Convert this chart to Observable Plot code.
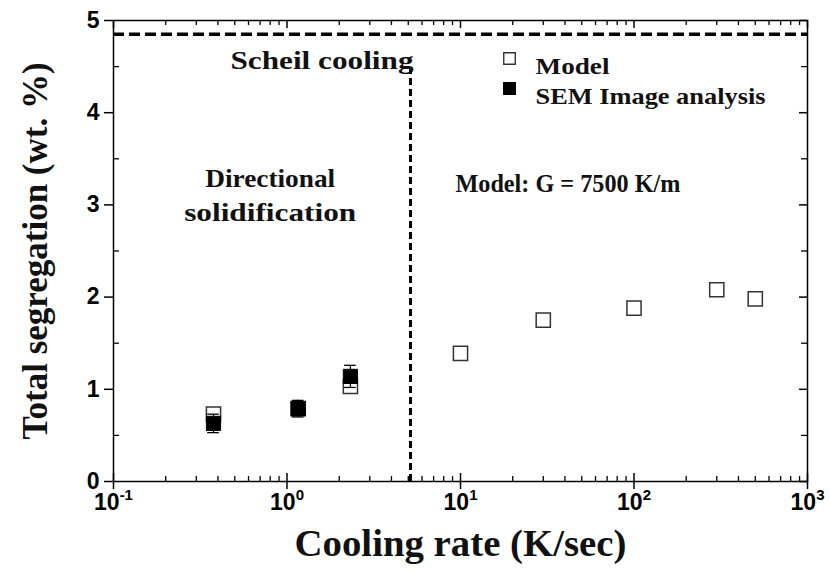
<!DOCTYPE html>
<html>
<head>
<meta charset="utf-8">
<script src="https://cdn.jsdelivr.net/npm/d3@7"></script>
<script src="https://cdn.jsdelivr.net/npm/@observablehq/plot@0.6"></script>
<style>
  html, body { margin: 0; padding: 0; background: #fff; }
  #chart { width: 830px; height: 579px; }
</style>
</head>
<body>
<div id="chart"></div>
<script>
// ---- data ----
const coolingModel = [0.377, 1.16, 2.32, 10, 30, 100, 300, 500];
const segModel     = [0.73, 0.79, 1.03, 1.39, 1.75, 1.88, 2.08, 1.98];
const coolingSEM   = [0.377, 1.16, 2.32];
const segSEM       = [0.63, 0.79, 1.14];
const errSEM       = [0.10, 0.09, 0.12];
const scheilLevel    = [4.85];
const transitionRate = [5.15];
const transitionTop  = [4.48];
const xTickValues = [0.1, 1, 10, 100, 1000];
const yTickValues = [0, 1, 2, 3, 4, 5];
const yMinorValues = [0.5, 1.5, 2.5, 3.5, 4.5];
const annotationText = ["Scheil cooling", "Directional\nsolidification", "Model: G = 7500 K/m"];
const annotationX = [5.36, 0.80, 9.35];
const annotationY = [4.59, 3.13, 3.26];
const legendLabels = ["Model", "SEM Image analysis"];
const xTitle = "Cooling rate (K/sec)";
const yTitle = "Total segregation (wt. %)";

// ---- tables built from arrays ----
const model = coolingModel.map((x, i) => ({x, y: segModel[i]}));
const sem = coolingSEM.map((x, i) => ({x, y: segSEM[i], e: errSEM[i]}));
const notes = annotationText.map((t, i) => ({t, x: annotationX[i], y: annotationY[i]}));
const xMinor = [];
for (const d of [0.1, 1, 10, 100]) for (let k = 2; k <= 9; k++) xMinor.push(d * k);

const W = 830, H = 579, mL = 113, mR = 23, mT = 20, mB = 98;
const pw = W - mL - mR, ph = H - mT - mB;
const serif = "Liberation Serif, Times New Roman, serif";
const sans = "Liberation Sans, Arial, sans-serif";
const noteStyle = {x: "x", y: "y", text: "t", fontFamily: serif, fontWeight: "bold", fontSize: 25, lineHeight: 1.35, fill: "#111"};

const chart = Plot.plot({
  width: W, height: H,
  marginLeft: mL, marginRight: mR, marginTop: mT, marginBottom: mB,
  style: {background: "#fff", color: "#000", fontFamily: sans},
  x: {type: "log", domain: [0.1, 1000], label: null},
  y: {domain: [0, 5], label: null},
  marks: [
    // axes
    Plot.axisX({ticks: xTickValues, tickSize: 8, tickPadding: 4, strokeWidth: 1.5,
      tickFormat: d => "10^" + Math.round(Math.log10(d)),
      fontSize: 23, fontWeight: "bold", fontFamily: sans, label: null}),
    Plot.axisY({ticks: yTickValues, tickSize: 9, tickPadding: 5, strokeWidth: 1.5,
      tickFormat: d => String(d), fontSize: 23, fontWeight: "bold", fontFamily: sans, label: null}),
    // inner ticks
    Plot.tickX(xTickValues, {x: d => d, insetTop: ph - 8, strokeWidth: 1.5}),
    Plot.tickX(xMinor, {x: d => d, insetTop: ph - 5, strokeWidth: 1.3}),
    Plot.tickX(xTickValues, {x: d => d, insetBottom: ph - 8, strokeWidth: 1.5}),
    Plot.tickX(xMinor, {x: d => d, insetBottom: ph - 5, strokeWidth: 1.3}),
    Plot.tickY(yMinorValues, {y: d => d, insetRight: pw - 6, strokeWidth: 1.3}),
    Plot.tickY(yTickValues, {y: d => d, insetLeft: pw - 8, strokeWidth: 1.5}),
    Plot.tickY(yMinorValues, {y: d => d, insetLeft: pw - 6, strokeWidth: 1.3}),
    Plot.frame({stroke: "#000", strokeWidth: 1.5}),
    // dashed guides
    Plot.ruleY(scheilLevel, {y: d => d, stroke: "#000", strokeWidth: 3.5, strokeDasharray: "11,5"}),
    Plot.ruleX(transitionRate, {x: d => d, y1: 0, y2: () => transitionTop[0], stroke: "#000", strokeWidth: 3, strokeDasharray: "7,4"}),
    // model
    Plot.dot(model, {x: "x", y: "y", symbol: "square", r: 8, fill: "#fff", stroke: "#333", strokeWidth: 1.5}),
    // SEM with error bars
    Plot.ruleX(sem, {x: "x", y1: d => d.y - d.e, y2: d => d.y + d.e, stroke: "#000", strokeWidth: 1.3}),
    Plot.ruleY(sem, {y: d => d.y - d.e, x1: d => d.x / 1.08, x2: d => d.x * 1.08, stroke: "#000", strokeWidth: 1.3}),
    Plot.ruleY(sem, {y: d => d.y + d.e, x1: d => d.x / 1.08, x2: d => d.x * 1.08, stroke: "#000", strokeWidth: 1.3}),
    Plot.dot(sem, {x: "x", y: "y", symbol: "square", r: 8, fill: "#000", stroke: "#000", strokeWidth: 1}),
    // annotations
    Plot.text(notes, {...noteStyle, filter: (d, i) => i === 0, textAnchor: "end"}),
    Plot.text(notes, {...noteStyle, filter: (d, i) => i === 1, textAnchor: "middle"}),
    Plot.text(notes, {...noteStyle, filter: (d, i) => i === 2, textAnchor: "start"}),
    // legend
    Plot.dot([legendLabels[0]], {frameAnchor: "top-left", dx: 396, dy: 38, symbol: "square", r: 6.5, fill: "#fff", stroke: "#333", strokeWidth: 1.4}),
    Plot.dot([legendLabels[1]], {frameAnchor: "top-left", dx: 396, dy: 68, symbol: "square", r: 6.5, fill: "#000", stroke: "#000"}),
    Plot.text([legendLabels[0]], {frameAnchor: "top-left", dx: 422, dy: 37, text: d => d,
      textAnchor: "start", fontFamily: serif, fontWeight: "bold", fontSize: 23, fill: "#111"}),
    Plot.text([legendLabels[1]], {frameAnchor: "top-left", dx: 422, dy: 67, text: d => d,
      textAnchor: "start", fontFamily: serif, fontWeight: "bold", fontSize: 23, fill: "#111"}),
    // titles
    Plot.text([xTitle], {frameAnchor: "bottom", dy: 74, text: d => d, fontFamily: serif, fontWeight: "bold", fontSize: 37, fill: "#111"}),
    Plot.text([yTitle], {frameAnchor: "left", dx: -78, rotate: -90, textAnchor: "middle", text: d => d, fontFamily: serif, fontWeight: "bold", fontSize: 35, fill: "#111"})
  ]
});

// superscript exponents on x tick labels
chart.querySelectorAll('g[aria-label="x-axis tick label"] text').forEach(t => {
  const s = t.textContent;
  if (!s.startsWith("10^")) return;
  const exp = s.slice(3);
  t.textContent = "";
  const base = document.createElementNS("http://www.w3.org/2000/svg", "tspan");
  base.textContent = "10";
  const sup = document.createElementNS("http://www.w3.org/2000/svg", "tspan");
  sup.textContent = exp;
  sup.setAttribute("dy", "-10");
  sup.setAttribute("font-size", "15");
  t.appendChild(base); t.appendChild(sup);
});

// horizontal stretch of serif labels, as in the reference
const widths = {"Scheil cooling": 183, "Directional": 130, "solidification": 172,
  "Model: G = 7500 K/m": 225, "Model": 74, "SEM Image analysis": 230,
  "Cooling rate (K/sec)": 332};
chart.querySelectorAll("text, tspan").forEach(el => {
  if (el.children.length) return;
  const w = widths[el.textContent];
  if (w) { el.setAttribute("textLength", w); el.setAttribute("lengthAdjust", "spacingAndGlyphs"); }
});

document.getElementById("chart").appendChild(chart);
</script>
</body>
</html>
